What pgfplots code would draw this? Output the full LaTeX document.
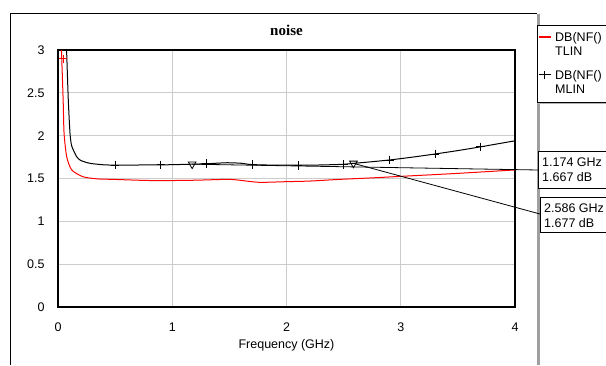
\documentclass[border=0pt]{standalone}
\usepackage{pgfplots}
\pgfplotsset{compat=1.18}
\usepackage{fontspec}
\setmainfont{Liberation Sans}
\newfontfamily\titlefont{Liberation Serif}
\begin{document}
\begin{tikzpicture}
\useasboundingbox (0,0) rectangle (606pt,365pt);
% outer frame and right panel
\draw[black, line width=1pt] (10pt,0pt) -- (10pt,351pt) -- (537pt,351pt);
\draw[gray!75, line width=3.5pt] (538.5pt,351pt) -- (538.5pt,0pt);
\draw[gray!60, line width=1.5pt] (537pt,262pt) -- (606pt,262pt);
\begin{axis}[
  at={(58pt,58pt)}, anchor=south west,
  scale only axis, width=457pt, height=257pt,
  xmin=0, xmax=4, ymin=0, ymax=3,
  xtick={0,1,2,3,4}, ytick={0,0.5,1,1.5,2,2.5,3},
  grid=major, major grid style={gray!40, line width=1pt},
  major tick length=0pt,
  axis line style={line width=1.2pt},
  tick label style={font=\fontsize{12.5}{14}\selectfont},
  /pgf/number format/assume math mode=true,
  yticklabel style={xshift=-10pt},
  xticklabel style={yshift=-12pt},
  xlabel={Frequency (GHz)},
  xlabel style={at={(axis description cs:0.5,0)}, anchor=base, yshift=-41.3pt, font=\fontsize{12.5}{14}\selectfont},
  title={\titlefont\bfseries noise},
  title style={at={(axis description cs:0.5,1)}, anchor=base, yshift=8.5pt, font=\fontsize{15}{17}\selectfont},
]
% TLIN (red)
\addplot[color=red, line width=1pt, smooth, tension=0.4] coordinates {
 (0.020,3.30) (0.030,3.00) (0.045,2.42) (0.053,2.03) (0.076,1.755) (0.12,1.60)
 (0.22,1.52) (0.35,1.495) (0.48,1.49) (0.70,1.48) (0.89,1.475) (1.20,1.48)
 (1.50,1.49) (1.65,1.47) (1.77,1.455) (2.00,1.463) (2.20,1.47) (2.47,1.49)
 (2.79,1.51) (3.00,1.525) (3.50,1.56) (4.00,1.60)};
\addplot[red, only marks, mark=+, mark size=4pt, line width=1pt] coordinates {(0.044,2.9)};
% MLIN (black)
\addplot[black, line width=1pt, smooth, tension=0.4] coordinates {
 (0.065,3.30) (0.075,3.00) (0.09,2.42) (0.105,2.03) (0.12,1.88) (0.163,1.755)
 (0.20,1.71) (0.28,1.677) (0.40,1.66) (0.50,1.657) (0.90,1.659) (1.174,1.667)
 (1.30,1.672) (1.48,1.684) (1.60,1.678) (1.70,1.662) (1.90,1.656) (2.10,1.655)
 (2.30,1.658) (2.50,1.666) (2.586,1.677) (2.70,1.69) (2.90,1.716) (3.10,1.749)
 (3.30,1.786) (3.50,1.826) (3.70,1.87) (3.85,1.905) (4.00,1.94)};
\addplot[black, only marks, mark=+, mark size=4.3pt, line width=0.8pt] coordinates {
 (0.5,1.657) (0.9,1.659) (1.3,1.672) (1.7,1.662) (2.1,1.655) (2.5,1.666)
 (2.9,1.716) (3.3,1.786) (3.7,1.87)};
% markers
\addplot[only marks, mark=triangle, mark size=4.4pt, mark options={rotate=180, draw=black, fill=white, line width=0.8pt}]
 coordinates {(1.174,1.667) (2.586,1.677)};
\coordinate (m1) at (axis cs:1.174,1.667);
\coordinate (m2) at (axis cs:2.586,1.677);
\end{axis}
% legend box
\draw[black, fill=white, line width=0.8pt] (537pt,340pt) rectangle (640pt,263pt);
\draw[red, line width=1.2pt] (538.5pt,328pt) -- (551pt,328pt);
\draw[black, line width=1pt] (538.5pt,290pt) -- (551pt,290pt);
\draw[black, line width=1pt] (544.7pt,285.7pt) -- (544.7pt,294.3pt);
% marker connectors and readouts
\draw[black, line width=0.8pt] (m1) -- (538.3pt,195pt);
\draw[black, line width=0.8pt] (m2) -- (540pt,151pt);
\draw[black, fill=white, line width=0.8pt] (538.3pt,213.3pt) rectangle (640pt,176.7pt);
\draw[black, fill=white, line width=0.8pt] (540pt,167.7pt) rectangle (640pt,132.3pt);
\begin{scope}[every node/.style={anchor=base west, inner sep=0pt, font=\fontsize{12.5}{14}\selectfont}]
\node at (555pt,323.3pt) {DB(NF()};
\node at (555pt,309.3pt) {TLIN};
\node at (555pt,285.7pt) {DB(NF()};
\node at (555pt,271.7pt) {MLIN};
\node at (542pt,198.8pt) {1.174 GHz};
\node at (542pt,183.3pt) {1.667 dB};
\node at (544pt,152.3pt) {2.586 GHz};
\node at (544pt,137.8pt) {1.677 dB};
\end{scope}
\end{tikzpicture}
\end{document}
